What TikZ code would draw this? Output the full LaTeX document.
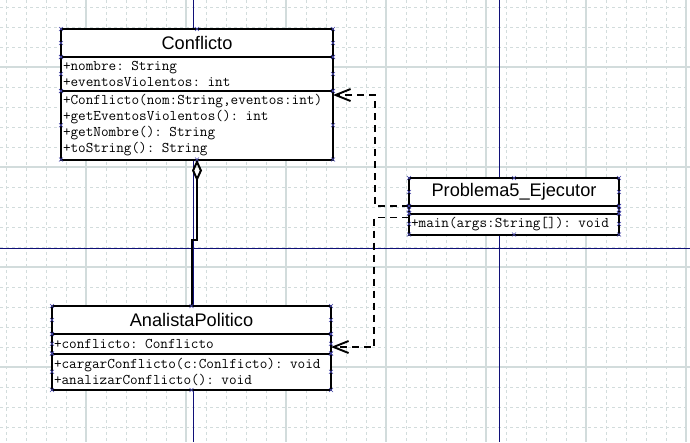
\documentclass[tikz,border=0pt]{standalone}
\usepackage{fontspec}
\setmainfont{Liberation Sans}
\usepackage{tikz}
\usetikzlibrary{arrows,arrows.meta}
\usetikzlibrary{positioning,calc}
\definecolor{gridline}{RGB}{210,220,220}
\definecolor{guide}{RGB}{16,16,120}
\definecolor{handlec}{RGB}{70,70,170}
\tikzstyle{minor}=[gridline, line width=1pt, dash pattern=on 3pt off 3pt]
\tikzstyle{major}=[gridline, line width=1.2pt]
\tikzstyle{guideline}=[guide, line width=1pt]
\tikzstyle{umltitle}=[draw, line width=2pt, fill=white, inner sep=0pt, outer sep=0pt, font=\fontsize{18.2}{20}\selectfont]
\tikzstyle{umlpart}=[draw, line width=2pt, fill=white, inner sep=2pt, outer sep=0pt, align=left, font=\ttfamily\fontsize{14.8}{15.8}\selectfont]
\tikzstyle{dep}=[line width=1.9pt, dash pattern=on 7pt off 5pt, -{Straight Barb[length=15pt,width=12pt]}]
\tikzstyle{aggr}=[line width=2pt, -{Diamond[open,length=22pt,width=10pt]}]
\tikzstyle{handle}=[handlec, line width=.6pt]
\newcommand{\umlclass}[8]{
 \pgfmathsetmacro{\partwidth}{#3-4}
 \node[umltitle, minimum width=#3pt, minimum height=28pt, anchor=north west] (#1) at #2 {#4};
 \node[umlpart, minimum width=#3pt, minimum height=#5pt, text width=\partwidth pt, below=0pt of #1] (#1-attr) {#6};
 \node[umlpart, minimum width=#3pt, minimum height=#7pt, text width=\partwidth pt, below=0pt of #1-attr] (#1-meth) {#8};
}
\newcommand{\handle}[1]{
 \draw[handle] ($ #1 + (-2,-2) $) -- ($ #1 + (2,2) $) ($ #1 + (-2,2) $) -- ($ #1 + (2,-2) $);
}

\begin{document}
\begin{tikzpicture}[x=1pt, y=-1pt]
 \useasboundingbox[fill=white] (0,0) rectangle (690,442);
%
 \foreach \x in {6,26,...,686} \draw[minor] (\x,0) -- (\x,442);
 \foreach \y in {7,27,...,427} \draw[minor] (0,\y) -- (690,\y);
 \foreach \x in {86,186,...,686} \draw[major] (\x,0) -- (\x,442);
 \foreach \y in {67,167,267,367} \draw[major] (0,\y) -- (690,\y);
 \draw[guideline] (193,0) -- (193,442);
 \draw[guideline] (499,0) -- (499,442);
 \draw[guideline] (0,248) -- (690,248);
%
 \umlclass{conf}{(61,29)}{272}{Conflicto}{34}{+nombre: String\\+eventosViolentos: int}{68.5}{+Conflicto(nom:String,eventos:int)\\+getEventosViolentos(): int\\+getNombre(): String\\+toString(): String}
 \umlclass{anal}{(52,306)}{279}{AnalistaPolitico}{19.5}{+conflicto: Conflicto}{36.5}{+cargarConflicto(c:Conlficto): void\\+analizarConflicto(): void}
 \umlclass{prob}{(409,178)}{210}{Problema5\_Ejecutor}{7.5}{}{21}{+main(args:String[]): void}
%
 \coordinate (jog) at (197,240);
 \draw[aggr] (anal.north) |- (jog) -- (conf-meth.south);
%
 \coordinate (bend1) at (375,95);
 \coordinate (bend2) at (374,347);
 \coordinate (out2) at ($ (prob-meth.north west) + (0,4) $);
 \draw[dep] (prob.south west) -| (bend1) -- (bend1 -| conf-meth.east);
 \draw[dep] (out2) -| (bend2) -- (bend2 -| anal-attr.east);
%
 \foreach \n in {conf,conf-attr,conf-meth,anal,anal-attr,anal-meth,prob,prob-attr,prob-meth}
  \foreach \a in {north west,north east,south west,south east,west,east}
   {\handle{(\n.\a)}}
 \foreach \n in {conf,anal,prob} \handle{(\n.north)};
 \foreach \n in {conf-meth,anal-meth,prob-meth} \handle{(\n.south)};
\end{tikzpicture}
\end{document}
